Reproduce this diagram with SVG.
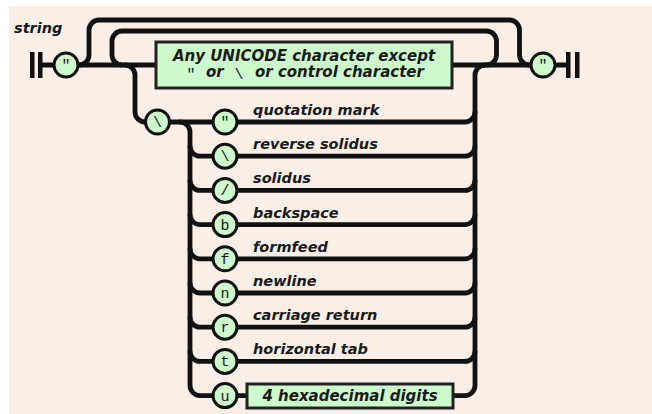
<svg xmlns="http://www.w3.org/2000/svg" width="652" height="414" viewBox="0 0 652 414">
  <style>
    .wire { fill: none; stroke: #111; stroke-width: 4.8; stroke-linecap: round; }
    .term { fill: #cdf9cd; stroke: #111; stroke-width: 3; }
    .box { fill: #cdf9cd; stroke: #222; stroke-width: 3; }
    .bar { fill: #111; }
    .lbl { font-family: "DejaVu Sans", Verdana, sans-serif; font-weight: bold; font-style: italic; font-size: 14.5px; fill: #1a1a1a; }
    .boxtxt { font-family: "DejaVu Sans", Verdana, sans-serif; font-weight: bold; font-style: italic; font-size: 15px; fill: #1a1a1a; }
    .mono { font-family: "Liberation Mono", "Courier New", monospace; font-size: 15px; fill: #1a1a1a; text-anchor: middle; }
  </style>

  <!-- backdrop -->
  <rect x="0" y="0" width="652" height="414" fill="#ffffff"/>
  <rect x="9" y="6" width="643" height="408" fill="#f9efe6"/>

  <text class="lbl" x="14" y="33">string</text>

  <g id="connectors">
    <!-- main line -->
    <path class="wire" d="M 42 65 H 566"/>
    <!-- bypass (empty string) -->
    <path class="wire" d="M 79 65 A 10 10 0 0 0 89 55 V 30 A 10 10 0 0 1 99 20 H 509.5 A 10 10 0 0 1 519.5 30 V 55 A 10 10 0 0 0 529.5 65"/>
    <!-- repeat loop -->
    <path class="wire" d="M 486.5 65 A 10 10 0 0 0 496.5 55 V 41 A 10 10 0 0 0 486.5 31 H 122 A 10 10 0 0 0 112 41 V 55 A 10 10 0 0 0 122 65"/>
    <!-- escape branch down to the backslash -->
    <path class="wire" d="M 125 65 A 10 10 0 0 1 135 75 V 112 A 10 10 0 0 0 145 122 H 465 A 10 10 0 0 0 475 112"/>
    <!-- left trunk of escapes, bottom row and right trunk -->
    <path class="wire" d="M 180 122 A 10 10 0 0 1 190 132 V 385.6 A 10 10 0 0 0 200 395.6 H 465 A 10 10 0 0 0 475 385.6 V 75 A 10 10 0 0 1 485 65"/>
    <!-- escape rows -->
    <path class="wire" d="M 190 146.2 A 10 10 0 0 0 200 156.2 H 465 A 10 10 0 0 0 475 146.2"/>
    <path class="wire" d="M 190 180.4 A 10 10 0 0 0 200 190.4 H 465 A 10 10 0 0 0 475 180.4"/>
    <path class="wire" d="M 190 214.6 A 10 10 0 0 0 200 224.6 H 465 A 10 10 0 0 0 475 214.6"/>
    <path class="wire" d="M 190 248.8 A 10 10 0 0 0 200 258.8 H 465 A 10 10 0 0 0 475 248.8"/>
    <path class="wire" d="M 190 283 A 10 10 0 0 0 200 293 H 465 A 10 10 0 0 0 475 283"/>
    <path class="wire" d="M 190 317.2 A 10 10 0 0 0 200 327.2 H 465 A 10 10 0 0 0 475 317.2"/>
    <path class="wire" d="M 190 351.4 A 10 10 0 0 0 200 361.4 H 465 A 10 10 0 0 0 475 351.4"/>
  </g>

  <g id="start">
    <rect class="bar" x="30" y="52" width="4.5" height="26"/>
    <rect class="bar" x="38" y="52" width="4.5" height="26"/>
  </g>
  <g id="end">
    <rect class="bar" x="566" y="52" width="4.5" height="26"/>
    <rect class="bar" x="575" y="52" width="4.5" height="26"/>
  </g>

  <g id="open-quote">
    <circle class="term" cx="66" cy="65" r="12"/>
    <text class="mono" x="66" y="70">"</text>
  </g>
  <g id="close-quote">
    <circle class="term" cx="543" cy="65" r="12"/>
    <text class="mono" x="543" y="70">"</text>
  </g>

  <g id="any-char">
    <rect class="box" x="156" y="42" width="296" height="46"/>
    <text class="boxtxt" x="304" y="60.5" text-anchor="middle">Any UNICODE character except</text>
    <text class="mono" x="191" y="79">"</text>
    <text class="boxtxt" x="206" y="77">or</text>
    <text class="mono" x="239" y="79">\</text>
    <text class="boxtxt" x="255" y="77">or control character</text>
  </g>

  <g id="backslash">
    <circle class="term" cx="157.5" cy="122" r="12"/>
    <text class="mono" x="157.5" y="127">\</text>
  </g>

  <g id="esc-quote">
    <circle class="term" cx="225" cy="122" r="12"/>
    <text class="mono" x="225" y="127">"</text>
    <text class="lbl" x="253" y="115">quotation mark</text>
  </g>
  <g id="esc-backslash">
    <circle class="term" cx="225" cy="156.2" r="12"/>
    <text class="mono" x="225" y="161.2">\</text>
    <text class="lbl" x="253" y="149.2">reverse solidus</text>
  </g>
  <g id="esc-slash">
    <circle class="term" cx="225" cy="190.4" r="12"/>
    <text class="mono" x="225" y="195.4">/</text>
    <text class="lbl" x="253" y="183.4">solidus</text>
  </g>
  <g id="esc-b">
    <circle class="term" cx="225" cy="224.6" r="12"/>
    <text class="mono" x="225" y="229.6">b</text>
    <text class="lbl" x="253" y="217.6">backspace</text>
  </g>
  <g id="esc-f">
    <circle class="term" cx="225" cy="258.8" r="12"/>
    <text class="mono" x="225" y="263.8">f</text>
    <text class="lbl" x="253" y="251.8">formfeed</text>
  </g>
  <g id="esc-n">
    <circle class="term" cx="225" cy="293" r="12"/>
    <text class="mono" x="225" y="298">n</text>
    <text class="lbl" x="253" y="286">newline</text>
  </g>
  <g id="esc-r">
    <circle class="term" cx="225" cy="327.2" r="12"/>
    <text class="mono" x="225" y="332.2">r</text>
    <text class="lbl" x="253" y="320.2">carriage return</text>
  </g>
  <g id="esc-t">
    <circle class="term" cx="225" cy="361.4" r="12"/>
    <text class="mono" x="225" y="366.4">t</text>
    <text class="lbl" x="253" y="354.4">horizontal tab</text>
  </g>
  <g id="esc-u">
    <circle class="term" cx="225" cy="395.6" r="12"/>
    <text class="mono" x="225" y="400.6">u</text>
  </g>
  <g id="hex-digits">
    <rect class="box" x="247" y="384" width="206" height="24"/>
    <text class="boxtxt" x="350" y="401" text-anchor="middle">4 hexadecimal digits</text>
  </g>
</svg>
